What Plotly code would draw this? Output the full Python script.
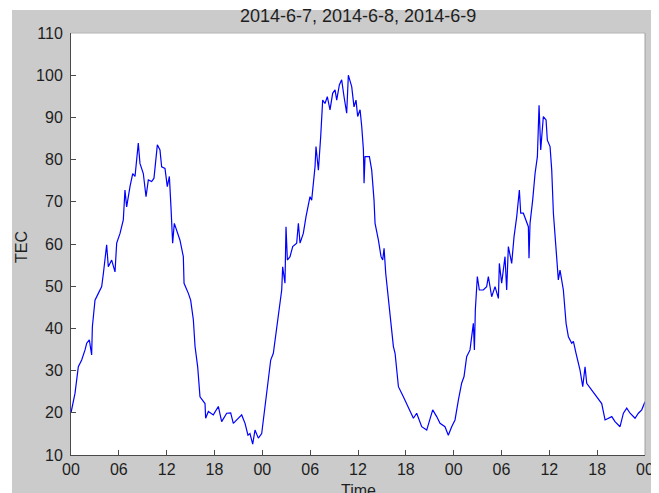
import plotly.graph_objects as go

# Time in hours since 2014-6-7 00:00 (0..72) and TEC values
hours = [
    0.0, 0.5, 0.92, 1.34, 1.76, 1.97, 2.3, 2.59, 2.68, 3.01, 3.43, 3.85, 4.06, 4.47, 4.68,
    5.1, 5.52, 5.73, 6.15, 6.56, 6.77, 6.98, 7.4, 7.74, 8.03, 8.44, 8.65, 9.07, 9.41, 9.7,
    10.12, 10.41, 10.83, 11.16, 11.37, 11.79, 12.08, 12.34, 12.54, 12.75, 12.96, 13.25,
    13.67, 14.09, 14.18, 14.72, 15.01, 15.35, 15.56, 15.89, 16.18, 16.81, 16.89, 17.23,
    17.85, 18.48, 18.9, 19.53, 20.03, 20.36, 20.78, 21.41, 21.83, 22.2, 22.45, 22.79,
    23.08, 23.5, 23.92, 24.13, 24.55, 24.88, 25.05, 25.38, 25.8, 26.01, 26.43, 26.55,
    26.84, 26.97, 27.14, 27.47, 27.81, 28.31, 28.52, 28.73, 29.14, 29.48, 29.98, 30.19,
    30.61, 30.73, 31.03, 31.32, 31.57, 31.86, 32.15, 32.49, 32.82, 33.12, 33.33, 33.66,
    33.95, 34.25, 34.58, 34.79, 35.21, 35.5, 35.75, 35.96, 36.26, 36.47, 36.68, 36.76,
    36.88, 37.43, 37.72, 38.01, 38.14, 38.56, 38.89, 39.1, 39.27, 39.48, 39.81, 40.23,
    40.44, 40.65, 41.07, 41.69, 42.11, 42.53, 42.95, 43.36, 43.99, 44.62, 45.04, 45.37,
    45.87, 46.29, 46.91, 47.33, 47.75, 48.17, 48.59, 49.0, 49.3, 49.63, 50.05, 50.47,
    50.6, 50.72, 50.97, 51.22, 51.72, 52.14, 52.35, 52.77, 53.19, 53.61, 53.73, 54.02,
    54.44, 54.65, 54.86, 55.28, 55.57, 55.91, 56.24, 56.41, 56.74, 57.08, 57.37, 57.45,
    57.58, 57.91, 58.21, 58.5, 58.71, 58.92, 59.25, 59.59, 59.75, 60.09, 60.3, 60.51,
    60.72, 60.92, 61.13, 61.34, 61.76, 62.1, 62.39, 62.81, 63.02, 63.35, 63.85, 64.19,
    64.48, 64.69, 65.31, 65.94, 66.57, 66.99, 67.41, 67.83, 68.24, 68.87, 69.29, 69.71,
    70.13, 70.75, 71.17, 71.59, 72.0,
]
tec = [
    20.0, 24.6, 30.9, 32.5, 34.9, 36.5, 37.3, 33.7, 40.4, 46.7, 48.3, 49.9, 53.0, 59.8, 54.6,
    56.2, 53.4, 60.2, 62.5, 65.7, 72.8, 68.8, 73.6, 76.7, 76.0, 83.9, 79.1, 76.7, 71.2, 75.2,
    74.8, 75.6, 83.5, 82.3, 78.3, 77.9, 73.6, 76.0, 68.8, 60.2, 64.9, 63.3,
    60.9, 57.0, 50.7, 48.3, 46.7, 42.0, 35.7, 30.9, 23.8, 22.2, 18.7, 20.3,
    19.5, 21.5, 17.9, 19.9, 20.0, 17.5, 18.3, 19.5, 17.5, 14.7, 15.1, 12.6,
    15.9, 14.0, 15.1, 18.3, 24.6, 28.6, 32.5, 34.1, 40.4, 43.6, 49.1, 54.6,
    50.7, 64.1, 56.2, 57.0, 59.4, 60.2, 64.9, 60.2, 62.5, 66.5, 71.2, 70.4,
    78.3, 83.1, 77.5, 85.4, 94.1, 93.3, 94.9, 91.8, 95.7, 96.5, 94.1, 97.7,
    98.9, 94.9, 91.0, 100.0, 97.3, 92.5, 94.1, 90.2, 91.8, 87.8, 82.3, 74.4,
    80.7, 80.7, 77.5, 70.4, 64.9, 60.9, 57.0, 56.2, 59.0, 53.0, 46.7, 40.4,
    35.7, 34.1, 26.2, 23.8, 22.2, 20.7, 18.7, 19.9, 16.7, 15.9, 18.3, 20.7,
    19.1, 17.5, 16.7, 14.7, 16.7, 18.3, 23.0, 27.0, 28.6, 33.3, 34.9, 41.2,
    34.9, 44.4, 52.3, 49.1, 49.1, 49.9, 52.3, 47.5, 49.9, 47.1, 55.4, 50.7,
    57.0, 49.1, 59.4, 55.4, 61.7, 66.5, 72.8, 67.3, 67.3, 65.7, 64.1, 56.6,
    64.9, 70.4, 76.7, 80.7, 92.9, 82.3, 90.2, 89.4, 84.6, 83.1, 77.5, 67.3,
    61.7, 57.0, 51.5, 53.8, 49.1, 41.2, 38.0, 36.5, 36.9, 34.1, 30.1, 26.2,
    30.9, 27.0, 25.4, 23.8, 22.2, 18.3, 18.7, 19.1, 17.9, 16.7, 19.9, 21.1,
    19.9, 18.7, 19.9, 20.7, 22.6,
]
tick_hours = [0, 6, 12, 18, 24, 30, 36, 42, 48, 54, 60, 66, 72]
tick_labels = ["00", "06", "12", "18", "00", "06", "12", "18", "00", "06", "12", "18", "00"]
y_ticks = [10, 20, 30, 40, 50, 60, 70, 80, 90, 100, 110]

title_text = "2014-6-7, 2014-6-8, 2014-6-9"
x_title = "Time"
y_title = "TEC"

FONT = "Liberation Sans, Arial, Helvetica, sans-serif"
GRAY = "#cbcbcb"

fig = go.Figure(
    go.Scatter(
        x=hours, y=tec, mode="lines",
        line=dict(color="#0000ff", width=1.2),
        hoverinfo="skip",
    )
)

axis_common = dict(
    automargin=False,
    showgrid=False, zeroline=False, showline=True, linecolor="#4a4a4a", linewidth=1,
    ticks="inside", ticklen=5, tickwidth=1, tickcolor="#4a4a4a",
    tickfont=dict(family=FONT, size=16, color="#1e1e1e"),
)

# the page body adds an 8px offset, so the figure is 8px smaller in each direction
fig.update_layout(
    template="none",
    width=651, height=485,
    margin=dict(l=63, r=14, t=25, b=38, pad=0),
    paper_bgcolor=GRAY, plot_bgcolor="white",
    showlegend=False,
    xaxis=dict(range=[0, 72], tickvals=tick_hours, ticktext=tick_labels, **axis_common),
    yaxis=dict(range=[10, 110], tickvals=y_ticks, ticklabelstandoff=4, **axis_common),
    annotations=[
        dict(text=title_text, xref="paper", yref="paper", x=0.5, y=1.0405,
             xanchor="center", yanchor="middle", showarrow=False,
             font=dict(family=FONT, size=18, color="#1e1e1e")),
        dict(text=x_title, xref="paper", yref="paper", x=0.5, y=-0.083,
             xanchor="center", yanchor="middle", showarrow=False,
             font=dict(family=FONT, size=16, color="#1e1e1e")),
        dict(text=y_title, xref="paper", yref="paper", x=-0.0854, y=0.493,
             xanchor="center", yanchor="middle", showarrow=False, textangle=-90,
             font=dict(family=FONT, size=16, color="#1e1e1e")),
    ],
    shapes=[
        # light top/right border of the axes box
        dict(type="line", xref="paper", yref="paper", x0=0, x1=1, y0=1, y1=1,
             line=dict(color="#b4b4b4", width=1)),
        dict(type="line", xref="paper", yref="paper", x0=1, x1=1, y0=0, y1=1,
             line=dict(color="#a0a0a0", width=1)),
        # whitish strips around the grey figure
        dict(type="rect", xref="paper", yref="paper", x0=-0.115, x1=-0.1028, y0=-0.1, y1=1.07,
             line=dict(width=0), fillcolor="#ffffff", layer="below"),
        dict(type="rect", xref="paper", yref="paper", x0=-0.115, x1=1.03, y0=1.0545, y1=1.07,
             line=dict(width=0), fillcolor="#ffffff", layer="below"),
        dict(type="rect", xref="paper", yref="paper", x0=1.0174, x1=1.03, y0=-0.1, y1=1.07,
             line=dict(width=0), fillcolor="#f0f0f0", layer="below"),
    ],
)

fig.write_html("out.html")
